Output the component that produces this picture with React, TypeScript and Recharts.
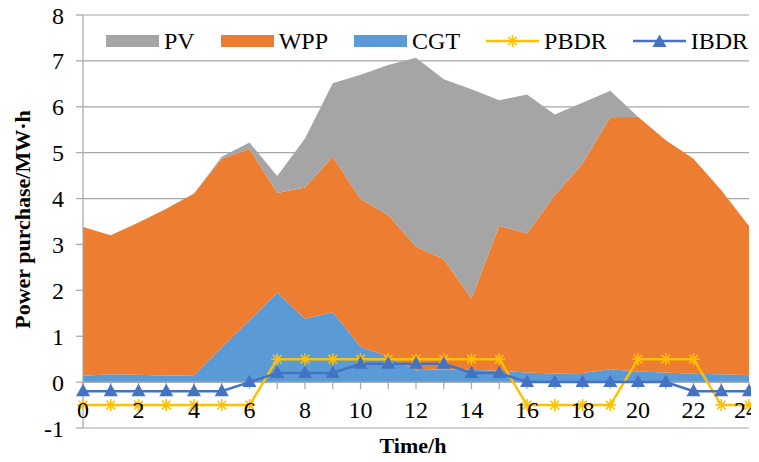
import React from 'react';
import {
  ComposedChart,
  Area,
  Line,
  XAxis,
  YAxis,
  CartesianGrid,
  ReferenceLine,
  Legend,
  Label,
} from 'recharts';

// Hours of the day
const hours = [0, 1, 2, 3, 4, 5, 6, 7, 8, 9, 10, 11, 12, 13, 14, 15, 16, 17, 18, 19, 20, 21, 22, 23, 24];

// Stacked purchase components (MW·h), bottom to top
const cgt = [0.14, 0.17, 0.16, 0.14, 0.15, 0.76, 1.35, 1.95, 1.38, 1.52, 0.77, 0.55, 0.26, 0.28, 0.27, 0.25, 0.21, 0.19, 0.2, 0.28, 0.23, 0.21, 0.18, 0.17, 0.15];
const wpp = [3.24, 3.03, 3.32, 3.64, 3.96, 4.11, 3.73, 2.17, 2.86, 3.39, 3.22, 3.09, 2.69, 2.4, 1.55, 3.16, 3.03, 3.88, 4.56, 5.49, 5.55, 5.06, 4.69, 4.01, 3.25];
const pv = [0, 0, 0, 0, 0, 0.04, 0.14, 0.37, 1.07, 1.6, 2.71, 3.27, 4.12, 3.92, 4.56, 2.73, 3.03, 1.76, 1.33, 0.58, 0, 0, 0, 0, 0];

// Demand response signals
const pbdr = [-0.5, -0.5, -0.5, -0.5, -0.5, -0.5, -0.5, 0.5, 0.5, 0.5, 0.5, 0.5, 0.5, 0.5, 0.5, 0.5, -0.5, -0.5, -0.5, -0.5, 0.5, 0.5, 0.5, -0.5, -0.5];
const ibdr = [-0.2, -0.2, -0.2, -0.2, -0.2, -0.2, 0, 0.2, 0.2, 0.2, 0.4, 0.4, 0.4, 0.4, 0.2, 0.2, 0, 0, 0, 0, 0, 0, -0.2, -0.2, -0.2];

const yTicks = [-1, 0, 1, 2, 3, 4, 5, 6, 7, 8];

const data = hours.map((h, i) => ({
  hour: h,
  CGT: cgt[i],
  WPP: wpp[i],
  PV: pv[i],
  PBDR: pbdr[i],
  IBDR: ibdr[i],
}));

const W = 759;
const H = 462;
const FONT = '"Liberation Serif", "Times New Roman", serif';
const GRID = '#a6a6a6';
const C_PV = '#a5a5a5';
const C_WPP = '#ed7d31';
const C_CGT = '#5b9bd5';
const C_PBDR = '#ffc000';
const C_IBDR = '#4472c4';

const StarDot = (props: any) => {
  const { cx, cy, index } = props;
  if (cx == null || cy == null) return <g key={`s-${index}`} />;
  const r = 6;
  const d = 4.3;
  return (
    <g key={`s-${index}`} stroke={C_PBDR} strokeWidth={1.6}>
      <line x1={cx} y1={cy - r} x2={cx} y2={cy + r} />
      <line x1={cx - r} y1={cy} x2={cx + r} y2={cy} />
      <line x1={cx - d} y1={cy - d} x2={cx + d} y2={cy + d} />
      <line x1={cx - d} y1={cy + d} x2={cx + d} y2={cy - d} />
    </g>
  );
};

const TriangleDot = (props: any) => {
  const { cx, cy, index } = props;
  if (cx == null || cy == null) return <g key={`t-${index}`} />;
  return (
    <polygon
      key={`t-${index}`}
      points={`${cx},${cy - 7.5} ${cx - 7},${cy + 5} ${cx + 7},${cy + 5}`}
      fill={C_IBDR}
    />
  );
};

const lastHour = hours[hours.length - 1];

const HourTick = (props: any) => {
  const { x, y, payload } = props;
  if (payload.value % 2 !== 0) return <g />;
  // keep the final label inside the canvas edge
  const dx = payload.value === lastHour ? -3 : 0;
  return (
    <text x={x + dx} y={y - 10} textAnchor="middle" fontSize={24} fontFamily={FONT} fill="#000">
      {payload.value}
    </text>
  );
};

const legendItems = [
  { name: 'PV', kind: 'area', color: C_PV },
  { name: 'WPP', kind: 'area', color: C_WPP },
  { name: 'CGT', kind: 'area', color: C_CGT },
  { name: 'PBDR', kind: 'star', color: C_PBDR },
  { name: 'IBDR', kind: 'tri', color: C_IBDR },
];

const LegendContent = () => (
  <div
    style={{
      display: 'flex',
      alignItems: 'center',
      gap: 26,
      paddingLeft: 106,
      fontFamily: FONT,
      fontSize: 24,
      lineHeight: '28px',
      color: '#000',
      whiteSpace: 'nowrap',
    }}
  >
    {legendItems.map((it) => (
      <div key={it.name} style={{ display: 'flex', alignItems: 'center', gap: 5 }}>
        <svg width={53} height={16}>
          {it.kind === 'area' && <rect x={0} y={2} width={53} height={12} fill={it.color} />}
          {it.kind !== 'area' && (
            <line x1={0} y1={8} x2={53} y2={8} stroke={it.color} strokeWidth={2.5} />
          )}
          {it.kind === 'star' && <StarDot cx={26.5} cy={8} index={0} />}
          {it.kind === 'tri' && <TriangleDot cx={26.5} cy={9} index={0} />}
        </svg>
        <span>{it.name}</span>
      </div>
    ))}
  </div>
);

export default function App() {
  return (
    <div style={{ width: W, height: H, margin: '-8px 0 0 -8px', fontFamily: FONT }}>
      <ComposedChart
        width={W}
        height={H}
        data={data}
        margin={{ top: 15, right: 10, left: 0, bottom: 0 }}
      >
        <CartesianGrid horizontal vertical={false} stroke={GRID} strokeWidth={1.2} />
        <XAxis
          dataKey="hour"
          type="number"
          domain={[0, 24]}
          ticks={hours}
          interval={0}
          height={34}
          axisLine={false}
          tickLine={false}
          tickSize={0}
          tickMargin={0}
          tick={<HourTick />}
        >
          <Label
            content={(p: any) => {
              const vb = p.viewBox;
              return (
                <text
                  x={vb.x + vb.width / 2 - 3}
                  y={vb.y + 25}
                  textAnchor="middle"
                  fontSize={22}
                  fontWeight="bold"
                  fontFamily={FONT}
                  fill="#000"
                >
                  Time/h
                </text>
              );
            }}
          />
        </XAxis>
        <YAxis
          domain={[-1, 8]}
          ticks={yTicks}
          interval={0}
          width={83}
          axisLine={{ stroke: GRID, strokeWidth: 1.2 }}
          tickLine={{ stroke: GRID, strokeWidth: 1.2 }}
          tickSize={7}
          tickMargin={12}
          tick={{ fontSize: 24, fontFamily: FONT, fill: '#000' }}
        >
          <Label
            content={(p: any) => {
              const vb = p.viewBox;
              const cx = vb.x + 22;
              const cy = vb.y + vb.height / 2 - 2;
              return (
                <text
                  x={cx}
                  y={cy}
                  transform={`rotate(-90 ${cx} ${cy})`}
                  textAnchor="middle"
                  dominantBaseline="central"
                  fontSize={22}
                  fontWeight="bold"
                  fontFamily={FONT}
                  fill="#000"
                >
                  Power purchase/MW·h
                </text>
              );
            }}
          />
        </YAxis>
        <Legend
          layout="horizontal"
          verticalAlign="middle"
          align="center"
          wrapperStyle={{ top: 27, left: 0, width: W }}
          content={<LegendContent />}
        />
        <Area type="linear" dataKey="CGT" stackId="p" stroke="none" fill={C_CGT} fillOpacity={1} isAnimationActive={false} />
        <Area type="linear" dataKey="WPP" stackId="p" stroke="none" fill={C_WPP} fillOpacity={1} isAnimationActive={false} />
        <Area type="linear" dataKey="PV" stackId="p" stroke="none" fill={C_PV} fillOpacity={1} isAnimationActive={false} />
        <ReferenceLine y={0} stroke={GRID} strokeWidth={1.2} />
        {hours.map((h) => (
          <ReferenceLine
            key={`tick-${h}`}
            segment={[{ x: h, y: 0 }, { x: h, y: -0.15 }]}
            stroke={GRID}
            strokeWidth={1.2}
          />
        ))}
        <Line
          type="linear"
          dataKey="PBDR"
          stroke={C_PBDR}
          strokeWidth={2.5}
          dot={StarDot}
          activeDot={false}
          isAnimationActive={false}
        />
        <Line
          type="linear"
          dataKey="IBDR"
          stroke={C_IBDR}
          strokeWidth={2.5}
          dot={TriangleDot}
          activeDot={false}
          isAnimationActive={false}
        />
      </ComposedChart>
    </div>
  );
}
